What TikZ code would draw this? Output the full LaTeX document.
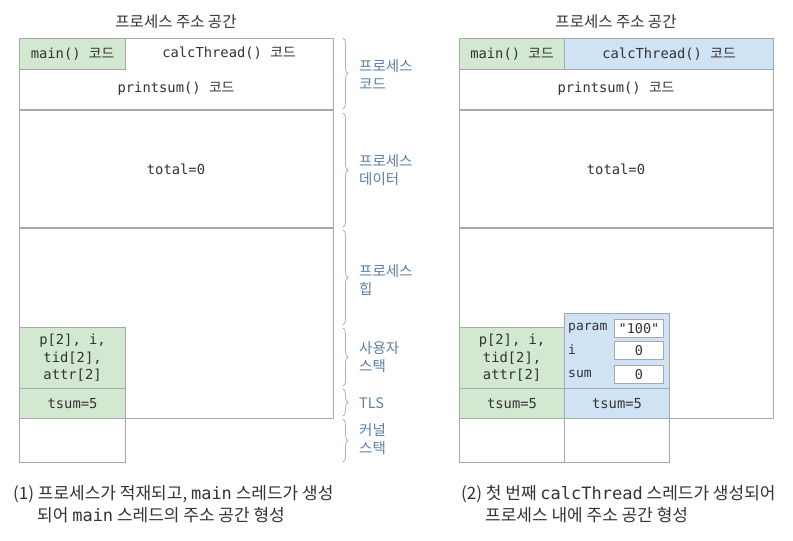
\documentclass[tikz,border=0pt]{standalone}
\usepackage{fontspec}
\usetikzlibrary{decorations.pathreplacing}
\newfontfamily\kr{Noto Sans CJK KR}
\newfontfamily\mono{DejaVu Sans Mono}
\definecolor{gline}{HTML}{A8A8A8}
\definecolor{gfill}{HTML}{D3E8D0}
\definecolor{bfill}{HTML}{CFE3F5}
\definecolor{lbl}{HTML}{5B7FAA}
\definecolor{brc}{HTML}{9FB4CC}
\definecolor{txt}{HTML}{333333}
\tikzset{
  cell/.style={draw=gline, line width=1.1pt, anchor=north west, inner sep=0pt, text=txt,
    font=\mono\fontsize{13.8}{17.5}\selectfont, align=center},
  gcell/.style={cell, fill=gfill},
  bcell/.style={cell, fill=bfill},
  wcell/.style={cell, fill=white},
  mtext/.style={text=txt, font=\mono\fontsize{13.8}{17}\selectfont, inner sep=0pt},
  ttl/.style={text=txt, font=\kr\fontsize{15.5}{17}\selectfont, inner sep=0pt},
  sidelbl/.style={text=lbl, font=\kr\fontsize{14.5}{18}\selectfont, align=left, anchor=west, inner sep=0pt},
  bracedeco/.style={draw=brc, line width=0.8pt, decorate, decoration={brace, amplitude=5pt}},
  captxt/.style={text=txt, font=\kr\fontsize{17}{20}\selectfont, align=left, anchor=west, inner sep=0pt},
  valbox/.style={draw=gline, line width=1pt, fill=white, anchor=north west, inner sep=0pt, text=txt,
    font=\mono\fontsize{13.5}{15}\selectfont}
}
\begin{document}
\begin{tikzpicture}[x=1pt, y=-1pt]
\useasboundingbox (0,0) rectangle (793,541);
% ---------- Left diagram ----------
\node[ttl] (t1) at (176,22) {프로세스 주소 공간};
\node[wcell, minimum width=314pt, minimum height=380pt] (L) at (19,38) {};
\draw[gline, line width=1.1pt] (19,110) -- (333,110);
\draw[gline, line width=1.1pt] (19,228) -- (333,228);
\node[gcell, minimum width=106pt, minimum height=31pt] (Lmain) at (19,38) {main() {\kr 코드}};
\node[mtext] (Lcalc) at (229,53) {calcThread() {\kr 코드}};
\node[mtext] (Lprint) at (176,89) {printsum() {\kr 코드}};
\node[mtext] (Ltotal) at (176,169) {total=0};
\node[gcell, minimum width=106pt, minimum height=61pt] (Lstack) at (19,327) {p[2], i,\\tid[2],\\attr[2]};
\node[gcell, minimum width=106pt, minimum height=30pt] (Ltls) at (19,388) {tsum=5};
\node[wcell, minimum width=106pt, minimum height=44pt] (Lkern) at (19,418) {};
% braces
\draw[bracedeco] (343,38) -- (343,109);
\draw[bracedeco] (343,113) -- (343,227);
\draw[bracedeco] (343,230) -- (343,325);
\draw[bracedeco] (343,328) -- (343,386);
\draw[bracedeco] (343,389) -- (343,416);
\draw[bracedeco] (343,419) -- (343,462);
\node[sidelbl] (s1) at (359,75) {프로세스\\코드};
\node[sidelbl] (s2) at (359,170) {프로세스\\데이터};
\node[sidelbl] (s3) at (359,280) {프로세스\\힙};
\node[sidelbl] (s4) at (359,357) {사용자\\스택};
\node[sidelbl] (s5) at (359,403) {TLS};
\node[sidelbl] (s6) at (359,439) {커널\\스택};
% ---------- Right diagram ----------
\node[ttl] (t2) at (616,22) {프로세스 주소 공간};
\node[wcell, minimum width=314pt, minimum height=380pt] (R) at (459,38) {};
\draw[gline, line width=1.1pt] (459,110) -- (773,110);
\draw[gline, line width=1.1pt] (459,228) -- (773,228);
\node[gcell, minimum width=105pt, minimum height=31pt] (Rmain) at (459,38) {main() {\kr 코드}};
\node[bcell, minimum width=209pt, minimum height=31pt] (Rcalc) at (564,38) {calcThread() {\kr 코드}};
\node[mtext] (Rprint) at (616,89) {printsum() {\kr 코드}};
\node[mtext] (Rtotal) at (616,169) {total=0};
\node[gcell, minimum width=105pt, minimum height=61pt] (Rstack) at (459,327) {p[2], i,\\tid[2],\\attr[2]};
\node[gcell, minimum width=105pt, minimum height=30pt] (Rtls) at (459,388) {tsum=5};
\node[wcell, minimum width=105pt, minimum height=44pt] (Rkern) at (459,418) {};
\node[bcell, minimum width=105pt, minimum height=75pt] (Bstack) at (564,313) {};
\node[bcell, minimum width=105pt, minimum height=30pt] (Btls) at (564,388) {tsum=5};
\node[wcell, minimum width=105pt, minimum height=44pt] (Bkern) at (564,418) {};
\node[mtext, anchor=west, font=\mono\fontsize{13}{15}\selectfont] (pl) at (568,328) {param};
\node[mtext, anchor=west, font=\mono\fontsize{13}{15}\selectfont] (il) at (568,350) {i};
\node[mtext, anchor=west, font=\mono\fontsize{13}{15}\selectfont] (sl) at (568,374) {sum};
\node[valbox, minimum width=49pt, minimum height=18pt] (pv) at (614,319) {"100"};
\node[valbox, minimum width=49pt, minimum height=18pt] (iv) at (614,341) {0};
\node[valbox, minimum width=49pt, minimum height=18pt] (sv) at (614,365) {0};
% ---------- Captions ----------
\node[captxt] (c1a) at (13,494) {(1) 프로세스가 적재되고, {\mono main} 스레드가 생성};
\node[captxt] (c1b) at (37,515) {되어 {\mono main} 스레드의 주소 공간 형성};
\node[captxt] (c2a) at (461,494) {(2) 첫 번째 {\mono calcThread} 스레드가 생성되어};
\node[captxt] (c2b) at (485,515) {프로세스 내에 주소 공간 형성};
\end{tikzpicture}
\end{document}
